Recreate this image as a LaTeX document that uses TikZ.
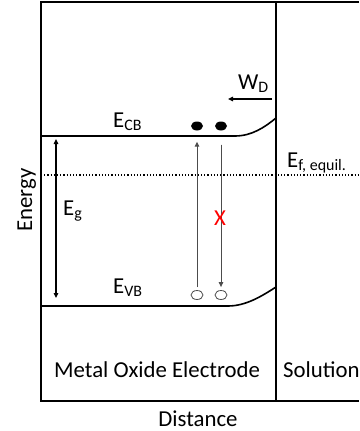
\documentclass[tikz,border=0pt]{standalone}
\usepackage{fontspec}
\setmainfont{Carlito}
\usepackage{xcolor}
\usetikzlibrary{arrows.meta,positioning,shapes.geometric}

\begin{document}
\begin{tikzpicture}[
    x=1pt,y=-1pt,
    frame/.style={line width=1.6pt},
    band/.style={line width=1.6pt},
    lbl/.style={inner sep=0pt,anchor=base west,font=\fontsize{22.8}{27}\selectfont},
    electron/.style={ellipse,fill=black,minimum width=12pt,minimum height=9pt,inner sep=0pt},
    hole/.style={ellipse,draw=black!70,line width=0.8pt,minimum width=12pt,minimum height=9pt,inner sep=0pt},
    arrow/.style={-{Triangle[length=5pt,width=4.5pt]},line width=1pt},
    transition/.style={arrow,draw=black!70,fill=black!70}
]
\useasboundingbox (0,0) rectangle (359,431);

% frame
\draw[frame] (359,2) -- (41,2) -- (41,401) -- (359,401);
\draw[frame] (276,2) -- (276,401);

% bands
\coordinate (cbleft) at (41,136);
\coordinate (vbleft) at (41,306);
\draw[band] (cbleft) -- (235,136) .. controls (252,136) and (265,127) .. (276,118);
\draw[band] (vbleft) -- (228,306) .. controls (246,306) and (262,296) .. (276,287);
\draw[line width=1.2pt,dotted] (41,175) -- (359,175);

% carriers
\node[electron] (e1) at (197,126) {};
\node[electron] (e2) at (221,126) {};
\node[hole] (h1) at (197,295) {};
\node[hole] (h2) at (221,295) {};
\draw[transition,shorten <=3pt,shorten >=11pt] (h1) -- (e1);
\draw[transition,shorten <=14pt,shorten >=3pt] (e2) -- (h2);
\node[lbl,anchor=center,text=red] (block) at (220,218) {X};

% band gap
\coordinate (egtop) at (56,136);
\coordinate (egbot) at (56,306);
\draw[arrow,{Triangle[length=5pt,width=4.5pt]}-{Triangle[length=5pt,width=4.5pt]},line width=1.2pt,shorten <=3pt,shorten >=8pt] (egtop) -- (egbot);

% depletion width
\coordinate (wdstart) at (272,99);
\coordinate (wdend) at (228,99);
\draw[arrow,line width=1.5pt] (wdstart) -- (wdend);

% labels
\node[lbl] (ecb) at (113,127) {E\textsubscript{CB}};
\node[lbl] (evb) at (113,293) {E\textsubscript{VB}};
\node[lbl] (eg) at (63,215) {E\textsubscript{g}};
\node[lbl] (wd) at (238,89) {W\textsubscript{D}};
\node[lbl] (ef) at (287,167) {E\textsubscript{f, equil.}};
\node[lbl] (oxide) at (54,377) {Metal Oxide Electrode};
\node[lbl] (solution) at (283,377) {Solution};
\node[lbl,anchor=base] (xaxis) at (198,426) {Distance};
\node[lbl,anchor=base,rotate=90] (yaxis) at (32,200) {Energy};
\end{tikzpicture}
\end{document}
